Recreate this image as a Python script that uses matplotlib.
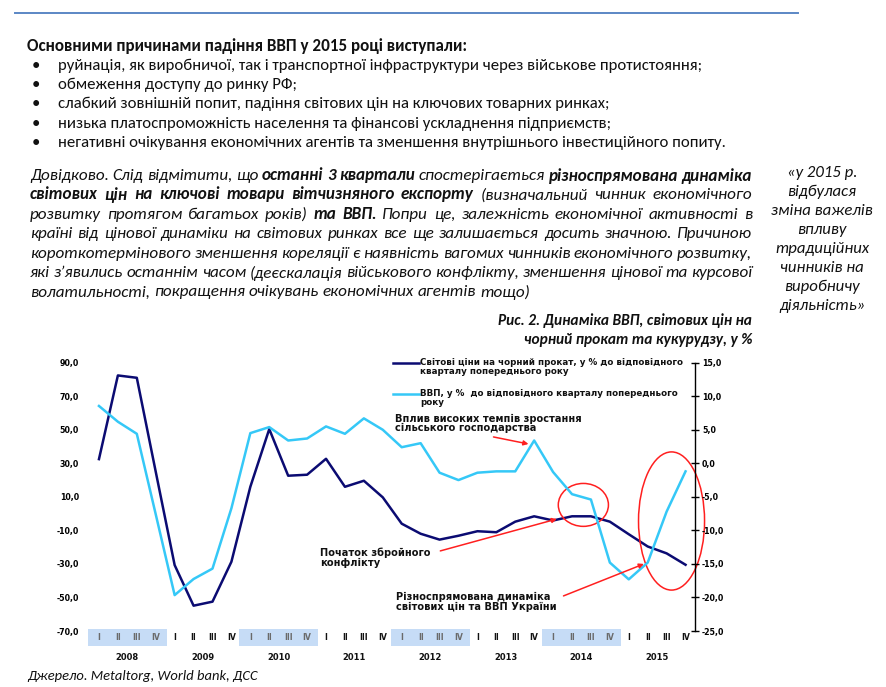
import numpy as np
import matplotlib
matplotlib.use('Agg')
import matplotlib.pyplot as plt
import matplotlib.transforms as mtransforms
from matplotlib import font_manager
from matplotlib.patches import Ellipse, Rectangle
from matplotlib.lines import Line2D

W, H = 886, 687

# chart data
years = ['2008', '2009', '2010', '2011', '2012', '2013', '2014', '2015']
quarters = ['I', 'II', 'III', 'IV']
steel_prices = [32.5, 82.4, 81.0, 25.0, -30.7, -54.9, -52.5, -28.7,
                16.0, 50.4, 22.6, 23.2, 32.7, 16.0, 19.6, 9.7,
                -6.0, -12.0, -15.5, -13.2, -10.5, -11.1, -4.8, -1.6,
                -4.1, -1.6, -1.6, -4.8, -12.3, -19.6, -23.7, -30.5]
gdp = [8.55, 6.2, 4.4, -7.6, -19.65, -17.25, -15.7, -6.7,
       4.5, 5.4, 3.4, 3.7, 5.5, 4.4, 6.7, 5.0,
       2.4, 3.0, -1.4, -2.5, -1.4, -1.2, -1.2, 3.4,
       -1.3, -4.6, -5.4, -14.8, -17.3, -14.8, -7.2, -1.2]
left_ticks = [90, 70, 50, 30, 10, -10, -30, -50, -70]
right_ticks = [15, 10, 5, 0, -5, -10, -15, -20, -25]
legend_labels = ['Світові ціни на чорний прокат, у % до відповідного\nкварталу попереднього року',
                 'ВВП, у %  до відповідного кварталу попереднього\nроку']
note_agri = 'Вплив високих темпів зростання\nсільського господарства'
note_war = 'Початок збройного\nконфлікту'
note_diverge = 'Різноспрямована динаміка\nсвітових цін та ВВП України'

# page text
heading = 'Основними причинами падіння ВВП у 2015 році виступали:'
bullets = [
    'руйнація, як виробничої, так і транспортної інфраструктури через військове протистояння;',
    'обмеження доступу до ринку РФ;',
    'слабкий зовнішній попит, падіння світових цін на ключових товарних ринках;',
    'низька платоспроможність населення та фінансові ускладнення підприємств;',
    'негативні очікування економічних агентів та зменшення внутрішнього інвестиційного попиту.',
]
paragraph = [
    [('Довідково. Слід відмітити, що', 'i'), ('останні 3 квартали', 'bi'),
     ('спостерігається', 'i'), ('різноспрямована динаміка', 'bi')],
    [('світових цін на ключові товари вітчизняного експорту', 'bi'),
     ('(визначальний чинник економічного', 'i')],
    [('розвитку протягом багатьох років)', 'i'), ('та ВВП.', 'bi'),
     ('Попри це, залежність економічної активності в', 'i')],
    [('країні від цінової динаміки на світових ринках все ще залишається досить значною. Причиною', 'i')],
    [('короткотермінового зменшення кореляції є наявність вагомих чинників економічного розвитку,', 'i')],
    [('які з’явились останнім часом (деєскалація військового конфлікту, зменшення цінової та курсової', 'i')],
    [('волатильності, покращення очікувань економічних агентів тощо)', 'i')],
]
quote = ['«у 2015 р.', 'відбулася', 'зміна важелів', 'впливу', 'традиційних',
         'чинників на', 'виробничу', 'діяльність»']
caption = ['Рис. 2. Динаміка ВВП, світових цін на', 'чорний прокат та кукурудзу, у %']
source = 'Джерело. Metaltorg, World bank, ДСС'

NAVY = '#0b0b72'
CYAN = '#35c8f7'
RED = '#ff1f1f'
BAND = '#c6dcf6'
INK = '#111111'

installed = {f.name for f in font_manager.fontManager.ttflist}


def pick(*names):
    for n in names:
        if n in installed:
            return n
    return 'DejaVu Sans'


body_font = pick('Carlito', 'Liberation Sans Narrow', 'Open Sans', 'Noto Sans')
chart_font = 'DejaVu Sans'

fig = plt.figure(figsize=(W / 100, H / 100), dpi=100)
renderer = fig.canvas.get_renderer()


def fx(px):
    return px / W


def fy(py):
    return 1 - py / H


STYLES = {'r': {}, 'b': dict(weight='bold'), 'i': dict(style='italic'),
          'bi': dict(style='italic', weight='bold')}


def text_width(s, size, st='r'):
    t = fig.text(0, 0, s, fontsize=size, family=body_font, **STYLES[st])
    w = t.get_window_extent(renderer).width
    t.remove()
    return w


def fit(s, target, st='r'):
    return 10 * target / text_width(s, 10, st)


def put(px, py, s, size, st='r', **kw):
    fig.text(fx(px), fy(py), s, fontsize=size, family=body_font, color=INK,
             va='center', **STYLES[st], **kw)


# top rule
fig.add_artist(Line2D([fx(15), fx(798)], [fy(12.5), fy(12.5)], color='#5b87c5', lw=1.4))

# heading and bullets
put(27, 46, heading, fit(heading, 443, 'b'), 'b')
bsize = fit(bullets[0], 647)
for k, line in enumerate(bullets):
    y = 65.5 + 19.4 * k
    put(36, y, '•', bsize, ha='center')
    put(58, y, line, bsize)

# justified paragraph
psize = fit(paragraph[-1][0][0], 500, 'i')
space = text_width('a a', psize, 'i') - text_width('aa', psize, 'i')
x0, x1 = 30, 752
for k, segs in enumerate(paragraph):
    words = [(w, st) for txt, st in segs for w in txt.split()]
    widths = [text_width(w, psize, st) for w, st in words]
    if k == len(paragraph) - 1:
        gap = space
    else:
        gap = (x1 - x0 - sum(widths)) / (len(words) - 1)
    xpos = x0
    for (w, st), wd in zip(words, widths):
        put(xpos, 176 + 19.4 * k, w, psize, st)
        xpos += wd + gap

# side quote
qsize = fit(quote[2], 101, 'i')
for k, line in enumerate(quote):
    put(822, 172.5 + 19.05 * k, line, qsize, 'i', ha='center')

# figure caption
csize = fit(caption[0], 255, 'bi')
for k, line in enumerate(caption):
    put(752, 321 + 18.5 * k, line, csize, 'bi', ha='right')

# source
put(27, 676, source, fit(source, 229, 'i'), 'i')

# ---- chart ----
plt.rcParams['font.family'] = chart_font
ax = fig.add_axes([fx(89.5), fy(631), (695 - 89.5) / W, (631 - 362.7) / H])
x = np.arange(len(steel_prices))
ax.plot(x, steel_prices, color=NAVY, lw=1.8)
ax.set_xlim(-0.5, len(x) - 0.5)
ax.set_ylim(left_ticks[-1], left_ticks[0])
ax.set_yticks(left_ticks)
ax.set_yticklabels([f'{v:.1f}'.replace('.', ',') for v in left_ticks],
                   fontsize=5.7, fontweight='bold')
ax.tick_params(axis='y', length=0, pad=7.5)
for s in ax.spines.values():
    s.set_visible(False)

qlabels = [q for _ in years for q in quarters]
ax.set_xticks(x)
ax.set_xticklabels(qlabels, fontsize=5.6, fontweight='bold')
ax.tick_params(axis='x', length=0, pad=1.5)
for i, lab in enumerate(ax.get_xticklabels()):
    lab.set_color('#6a6a6a' if (i // 4) % 2 == 0 else '#111111')

blend = mtransforms.blended_transform_factory(ax.transData, ax.transAxes)
for k, yr in enumerate(years):
    if k % 2 == 0:
        ax.add_patch(Rectangle((4 * k - 0.58, -0.057), 4.17, 0.065, transform=blend,
                               facecolor=BAND, edgecolor='none', clip_on=False, zorder=0.5))
    ax.text(4 * k + 1.5, -0.097, yr, transform=blend, ha='center', va='center',
            fontsize=6, fontweight='bold', color=INK)

ax2 = ax.twinx()
ax2.plot(x, gdp, color=CYAN, lw=1.8)
ax2.set_ylim(right_ticks[-1], right_ticks[0])
ax2.set_yticks(right_ticks)
ax2.set_yticklabels([f'{v:.1f}'.replace('.', ',') for v in right_ticks],
                    fontsize=5.7, fontweight='bold')
ax2.tick_params(axis='y', direction='inout', length=6, width=1, pad=2)
for name, s in ax2.spines.items():
    s.set_visible(name == 'right')
ax2.spines['right'].set_linewidth(1)

# legend
for k, (lab, col) in enumerate(zip(legend_labels, [NAVY, CYAN])):
    py = 363 + 31 * k
    ya = (631 - py) / 268.3
    ax2.add_line(Line2D([(393 - 89.5) / 605.5, (419 - 89.5) / 605.5], [ya, ya],
                        transform=ax2.transAxes, color=col, lw=1.8, clip_on=False))
    ax2.text((420 - 89.5) / 605.5, ya + 4.8 / 268.3, lab, transform=ax2.transAxes,
             ha='left', va='top', fontsize=6.3, fontweight='bold', color=INK,
             linespacing=0.95)

# notes
note_kw = dict(ha='left', va='top', fontsize=7.1, fontweight='bold', color=INK, linespacing=0.95)
ax2.text(15.66, 7.43, note_agri, **note_kw)
ax2.text(11.7, -12.6, note_war, **note_kw)
ax2.text(15.7, -19.2, note_diverge, **note_kw)

arrow = dict(arrowstyle='-|>', color=RED, lw=1.1, mutation_scale=7, shrinkA=0, shrinkB=0)
ax2.annotate('', xy=(22.7, 2.88), xytext=(20.85, 3.93), arrowprops=arrow)
ax2.annotate('', xy=(24.2, -8.3), xytext=(18.04, -13.06), arrowprops=arrow)
ax2.annotate('', xy=(28.8, -15.0), xytext=(24.55, -19.77), arrowprops=arrow)

ax2.add_patch(Ellipse((25.6, -6.2), 2.65, 6.4, fill=False, ec=RED, lw=1.1, clip_on=False))
ax2.add_patch(Ellipse((30.26, -8.6), 3.49, 20.6, fill=False, ec=RED, lw=1.1, clip_on=False))

fig.savefig('out.png', dpi=100)
